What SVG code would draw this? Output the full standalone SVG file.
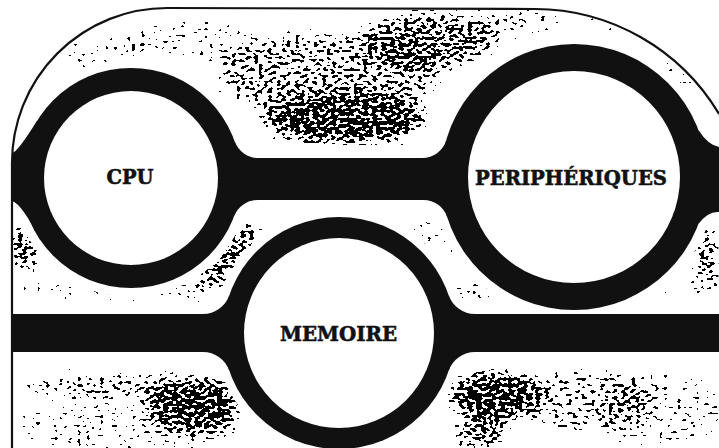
<svg xmlns="http://www.w3.org/2000/svg" width="719" height="448" viewBox="0 0 719 448">
<style>
 .lbl{font-family:"DejaVu Serif","Liberation Serif",serif;font-weight:bold;fill:#111;stroke:#111;stroke-width:0.6;text-anchor:middle}
 .ring{fill:#111}
 .hole{fill:#fff}
 .conn{fill:#111}
 .halo{fill:#fff}
 .frame{fill:none;stroke:#111;stroke-width:2.2}
 .den ellipse{fill:#000}
</style>
<defs>
 <clipPath id="inside"><path d="M13 448 L13 163 A154 154 0 0 1 167 10 L535 10 A214 214 0 0 1 718 116 L719 448 Z"/></clipPath>
 <filter id="stip" filterUnits="userSpaceOnUse" x="0" y="0" width="719" height="448" color-interpolation-filters="sRGB">
  <feGaussianBlur in="SourceGraphic" stdDeviation="8" result="d"/>
  <feTurbulence type="fractalNoise" baseFrequency="0.22 0.32" numOctaves="1" seed="11" result="t"/>
  <feColorMatrix in="t" type="matrix" values="0 0 0 0 0  0 0 0 0 0  0 0 0 0 0  1 0 0 0 0" result="n"/>
  <feComposite in="n" in2="d" operator="arithmetic" k1="0" k2="3" k3="1.42" k4="-2.24" result="s"/>
  <feComponentTransfer in="s"><feFuncA type="discrete" tableValues="0 1"/></feComponentTransfer>
 </filter>
</defs>
<rect width="719" height="448" fill="#fff"/>
<g clip-path="url(#inside)">
 <g class="den" filter="url(#stip)">
  <ellipse cx="345" cy="120" rx="85" ry="28" fill-opacity="1"/>
  <ellipse cx="330" cy="75" rx="115" ry="45" fill-opacity="0.72"/>
  <ellipse cx="430" cy="40" rx="70" ry="30" fill-opacity="0.85"/>
  <ellipse cx="520" cy="22" rx="50" ry="14" fill-opacity="0.62"/>
  <ellipse cx="190" cy="40" rx="70" ry="25" fill-opacity="0.5"/>
  <ellipse cx="90" cy="55" rx="55" ry="25" fill-opacity="0.44"/>
  <ellipse cx="610" cy="22" rx="45" ry="12" fill-opacity="0.5"/>
  <ellipse cx="685" cy="75" rx="25" ry="45" fill-opacity="0.5"/>
  <ellipse cx="25" cy="248" rx="20" ry="28" fill-opacity="0.85"/>
  <ellipse cx="110" cy="290" rx="100" ry="16" fill-opacity="0.52"/>
  <ellipse cx="228" cy="258" rx="55" ry="13" transform="rotate(-52 228 258)" fill-opacity="1"/>
  <ellipse cx="290" cy="212" rx="30" ry="6" fill-opacity="0.55"/>
  <ellipse cx="425" cy="245" rx="30" ry="38" fill-opacity="0.47"/>
  <ellipse cx="470" cy="292" rx="30" ry="10" fill-opacity="0.8"/>
  <ellipse cx="120" cy="385" rx="115" ry="14" fill-opacity="0.72"/>
  <ellipse cx="195" cy="405" rx="50" ry="30" fill-opacity="1"/>
  <ellipse cx="120" cy="428" rx="120" ry="28" fill-opacity="0.5"/>
  <ellipse cx="495" cy="395" rx="50" ry="28" fill-opacity="1"/>
  <ellipse cx="480" cy="435" rx="30" ry="15" fill-opacity="0.9"/>
  <ellipse cx="585" cy="400" rx="70" ry="35" fill-opacity="0.62"/>
  <ellipse cx="665" cy="410" rx="65" ry="42" fill-opacity="0.5"/>
  <ellipse cx="708" cy="258" rx="15" ry="38" fill-opacity="0.85"/>
  <ellipse cx="675" cy="295" rx="40" ry="10" fill-opacity="0.5"/>
 </g>
</g>
<g class="halo">
 <circle cx="131" cy="178" r="119"/>
 <circle cx="574" cy="177" r="142"/>
 <circle cx="339" cy="333" r="124"/>
 <rect x="0" y="145" width="719" height="67"/>
 <rect x="0" y="303" width="719" height="66"/>
</g>
<g id="connectors" class="conn">
 <rect x="12" y="158" width="707" height="42"/>
 <rect x="12" y="314" width="707" height="38"/>
 <path d="M37.5 120 Q17 153 12 153 L12 201 Q22 204 40.1 240 L30 178 Z"/>
 <path d="M698.4 130 Q708 145 719 147 L719 212 Q708 211 698.4 224 L690 177 Z"/>
 <path d="M234.7 141.3 A25 25 0 0 0 258.3 158 L234.7 158 Z"/>
 <path d="M234.2 216.3 A25 25 0 0 1 257.6 200 L234.2 200 Z"/>
 <path d="M446.3 140 A25 25 0 0 1 422.3 158 L446.3 158 Z"/>
 <path d="M447.3 217.4 A25 25 0 0 0 423.5 200 L447.3 200 Z"/>
 <path d="M229.4 295.1 A28 28 0 0 1 202.9 314 L229.4 314 Z"/>
 <path d="M229.4 370.9 A28 28 0 0 0 202.9 352 L229.4 352 Z"/>
 <path d="M448.6 295.1 A28 28 0 0 0 475.1 314 L448.6 314 Z"/>
 <path d="M448.6 370.9 A28 28 0 0 1 475.1 352 L448.6 352 Z"/>
</g>
<g id="cpu">
 <circle class="ring" cx="131" cy="178" r="110"/>
 <circle class="hole" cx="131" cy="178" r="87"/>
 <text class="lbl" x="130" y="184" font-size="21" textLength="47" lengthAdjust="spacingAndGlyphs">CPU</text>
</g>
<g id="peripheriques">
 <circle class="ring" cx="574" cy="177" r="133"/>
 <circle class="hole" cx="574" cy="177" r="106"/>
 <text class="lbl" x="571" y="185" font-size="20" textLength="192" lengthAdjust="spacingAndGlyphs">PERIPHÉRIQUES</text>
</g>
<g id="memoire">
 <circle class="ring" cx="339" cy="333" r="116"/>
 <circle class="hole" cx="339" cy="333" r="95"/>
 <text class="lbl" x="338.5" y="341" font-size="21" textLength="117" lengthAdjust="spacingAndGlyphs">MEMOIRE</text>
</g>
<path class="frame" d="M12 448 L12 163 A155 155 0 0 1 167 8 L535 9 A215 215 0 0 1 719 114"/>
</svg>
